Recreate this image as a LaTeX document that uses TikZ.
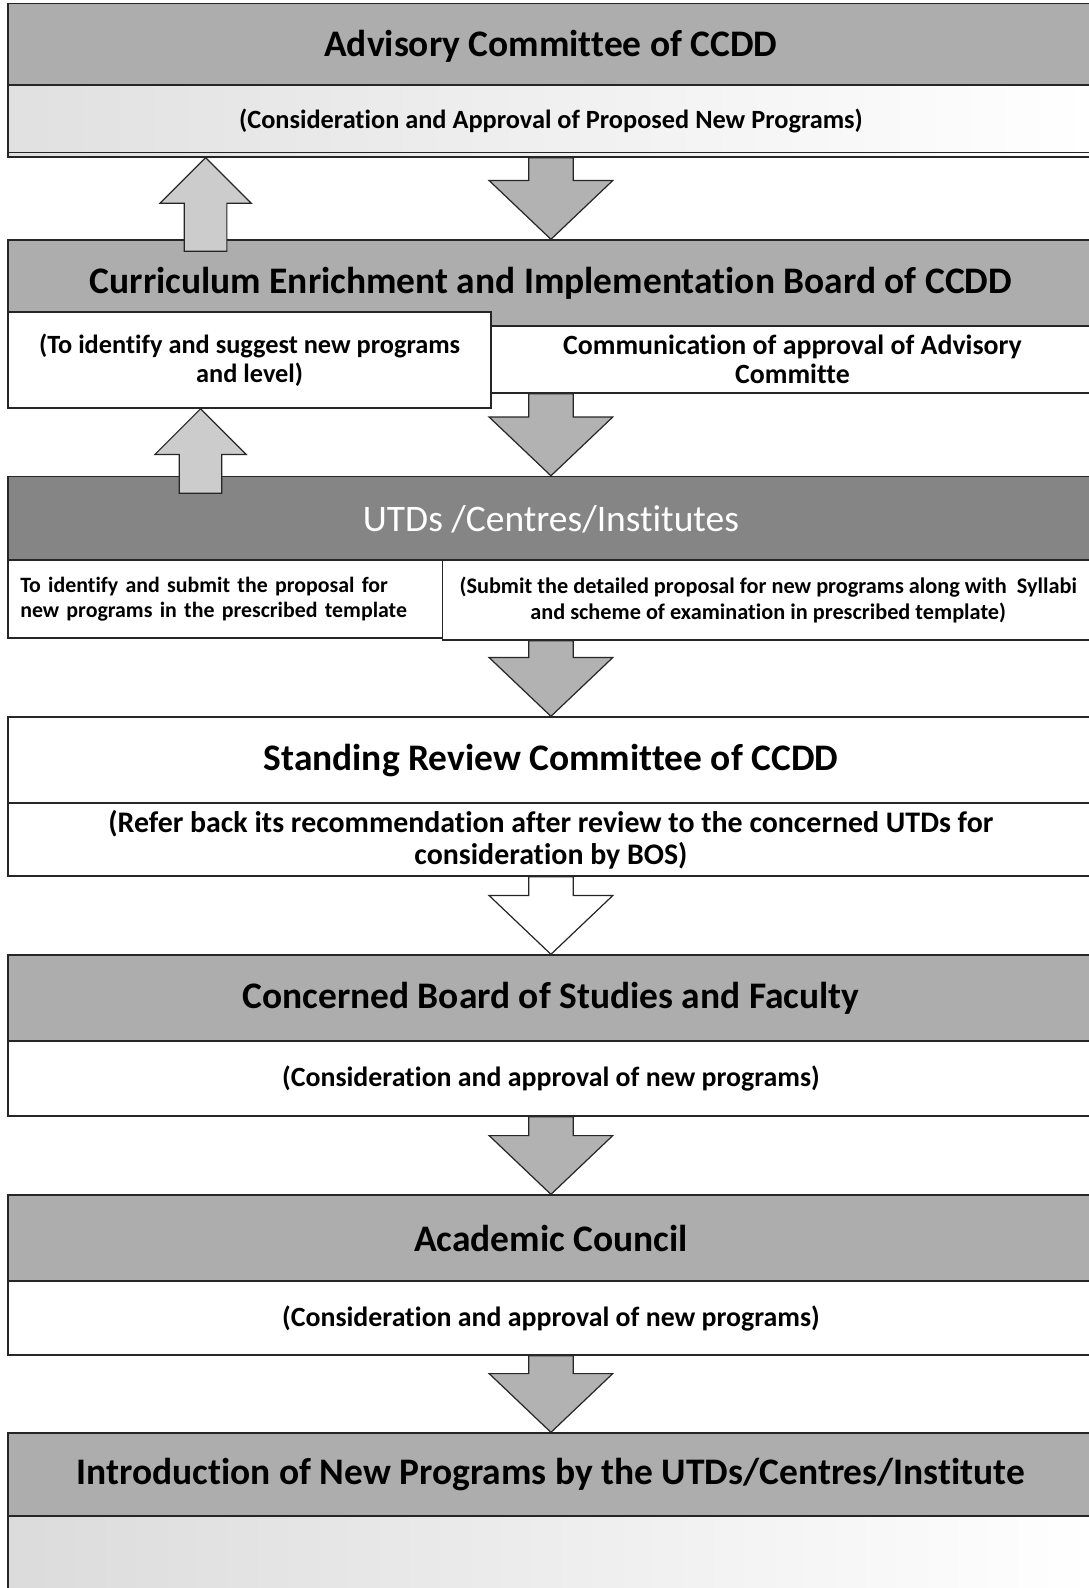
\documentclass[tikz,border=0pt]{standalone}
\usepackage{fontspec}
\setmainfont{Carlito}[Ligatures=NoCommon]
\usetikzlibrary{calc}

\tikzset{
  boxline/.style={draw=black!85, line width=1.4pt},
  head/.style={boxline, fill=black!32, minimum width=1072pt, minimum height=85pt,
    inner sep=0pt, font=\fontsize{37}{42}\selectfont\bfseries},
  sub/.style={boxline, fill=white, minimum width=1072pt, minimum height=72pt,
    inner sep=0pt, align=center, font=\fontsize{26}{29}\selectfont\bfseries},
  small/.style={font=\fontsize{22}{25}\selectfont\bfseries},
  downfill/.style={draw=black!85, line width=1.2pt, fill=black!30},
  upfill/.style={draw=black!85, line width=1.2pt, fill=black!20},
  hollow/.style={draw=black!85, line width=1.2pt, fill=white}
}

% block arrows, base -> tip
\newcommand{\flowdown}[3][downfill]{%
  \draw[#1] let \p1=(#2), \p2=(#3) in
    (\x1-22pt,\y1) -- (\x1+22pt,\y1) -- (\x1+22pt,\y2+58pt) -- (\x1+61pt,\y2+58pt)
    -- (\x1,\y2) -- (\x1-61pt,\y2+58pt) -- (\x1-22pt,\y2+58pt) -- cycle;}
\newcommand{\flowup}[3][upfill]{%
  \draw[#1] let \p1=(#2), \p2=(#3) in
    (\x1-21pt,\y1) -- (\x1+21pt,\y1) -- (\x1+21pt,\y2-45pt) -- (\x1+45pt,\y2-45pt)
    -- (\x1,\y2) -- (\x1-45pt,\y2-45pt) -- (\x1-21pt,\y2-45pt) -- cycle;}

\begin{document}
\begin{tikzpicture}[x=1pt, y=-1pt]
  \useasboundingbox (0,0) rectangle (1075,1568);
  % Advisory Committee
  \node[head] (adv) at (544,46) {Advisory Committee of CCDD};
  \node[sub, minimum height=71pt, left color=black!12, right color=white] (advsub) at (544,119.5)
    {(Consideration and Approval of Proposed New Programs)};
  \draw[boxline] ([yshift=5pt]advsub.south west) -- ([yshift=5pt]advsub.south east);
  % Curriculum Board
  \node[head] (ceib) at (544,279.5) {Curriculum Enrichment and Implementation Board of CCDD};
  \node[sub, minimum width=595pt, minimum height=66pt, font=\fontsize{27.5}{29}\selectfont\bfseries]
    (ceibr) at (782.5,355) {Communication of approval of Advisory\\Committe};
  \node[sub, minimum width=477pt, minimum height=95pt] (ceibl) at (246.5,355.5)
    {(To identify and suggest new programs\\and level)};
  % UTDs
  \node[head, fill=black!48, text=white, font=\fontsize{37}{42}\selectfont] (utd) at (544,513)
    {UTDs /Centres/Institutes};
  \node[sub, font=\fontsize{21.6}{25}\selectfont\bfseries, minimum width=429pt, minimum height=77pt,
    text width=405pt, align=left] (utdl) at (222.5,591.5)
    {To identify and submit the proposal for\\new programs in the prescribed template};
  \node[sub, small, minimum width=643pt, minimum height=79pt] (utdr) at (758.5,592.5)
    {(Submit the detailed proposal for new programs along with~ Syllabi\\and scheme of examination in prescribed template)};
  % Standing Review Committee
  \node[head, fill=white] (src) at (544,750.5) {Standing Review Committee of CCDD};
  \node[sub, font=\fontsize{29.5}{32}\selectfont\bfseries] (srcsub) at (544,829)
    {(Refer back its recommendation after review to the concerned UTDs for\\consideration by BOS)};
  % Board of Studies
  \node[head] (bos) at (544,985.5) {Concerned Board of Studies and Faculty};
  \node[sub, minimum height=74pt, font=\fontsize{27.5}{29}\selectfont\bfseries] (bossub) at (544,1065)
    {(Consideration and approval of new programs)};
  % Academic Council
  \node[head] (ac) at (544,1222.5) {Academic Council};
  \node[sub, minimum height=73pt, font=\fontsize{27.5}{29}\selectfont\bfseries] (acsub) at (544,1301.5)
    {(Consideration and approval of new programs)};
  % Introduction
  \node[head, minimum height=82pt] (intro) at (544,1456)
    {Introduction of New Programs by the UTDs/Centres/Institute};
  \node[sub, minimum height=80pt, left color=black!14, right color=white] (introsub) at (544,1537) {};
  % Arrows
  \coordinate (up1) at (203,248);
  \coordinate (up2) at (198,487);
  \flowup{up1}{up1 |- advsub.south}
  \flowup{up2}{up2 |- ceibl.south}
  \flowdown{advsub.south}{ceib.north}
  \flowdown{ceibr.south -| utd.north}{utd.north}
  \flowdown{utdr.south -| utd.south}{src.north}
  \flowdown[hollow]{srcsub.south}{bos.north}
  \flowdown{bossub.south}{ac.north}
  \flowdown{acsub.south}{intro.north}
\end{tikzpicture}
\end{document}
